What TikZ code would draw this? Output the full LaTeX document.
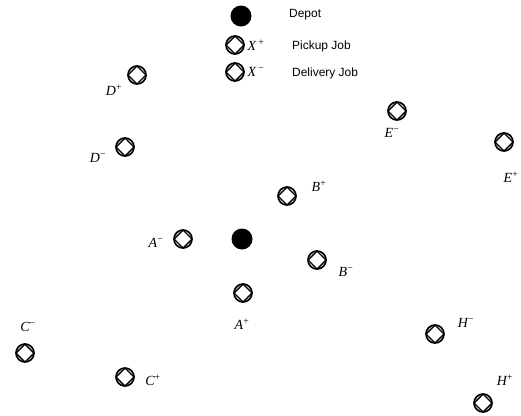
\documentclass[tikz,border=0pt]{standalone}
\usepackage{fontspec}
\setmainfont{Liberation Serif}
\newfontfamily\legendfont{Liberation Sans}
\begin{document}
\begin{tikzpicture}[x=1bp,y=-1bp,
  job/.style={draw,circle,line width=1.7bp,minimum size=18bp,inner sep=0pt,
    path picture={\draw[line width=1.4bp] (path picture bounding box.north)
      -- (path picture bounding box.east) -- (path picture bounding box.south)
      -- (path picture bounding box.west) -- cycle;}},
  depot/.style={circle,fill=black,minimum size=21bp,inner sep=0pt},
  tag/.style={font=\fontsize{14}{16}\selectfont\itshape,inner sep=0pt},
  legend/.style={font=\legendfont\fontsize{12}{14}\selectfont,anchor=west,inner sep=0pt}]

\useasboundingbox (0,0) rectangle (521,415);

%legend
  \node[depot] (key-depot) at (241,16) {};
  \node[legend] (key-depot-text) at (289,15) {Depot};
  \node[job] (key-pick) at (235,45) {};
  \node[tag] (key-pick-tag) at (256,45) {X\,\textsuperscript{\upshape +}};
  \node[legend] (key-pick-text) at (292,46) {Pickup Job};
  \node[job] (key-del) at (235,72) {};
  \node[tag] (key-del-tag) at (256,72) {X\,\textsuperscript{\upshape −}};
  \node[legend] (key-del-text) at (292,73) {Delivery Job};

%depot
  \node[depot] (depot) at (242,239) {};

%pickup and delivery jobs
  \foreach \nm/\mx/\my/\lx/\ly/\ltr/\sgn in {
      Dp/137/75/114/90/D/+, Dm/125/147/98/158/D/−,
      Em/397/111/392/133/E/−, Ep/504/142/511/177/E/+,
      Bp/287/196/319/186/B/+, Bm/317/260/346/272/B/−,
      Ap/243/293/242/324/A/+, Am/183/239/156/243/A/−,
      Cp/125/377/153/380/C/+, Cm/25/353/28/327/C/−,
      Hp/483/403/505/380/H/+, Hm/435/334/466/323/H/−} {
    \node[job] (job-\nm) at (\mx,\my) {};
    \node[tag] (tag-\nm) at (\lx,\ly) {\ltr\textsuperscript{\upshape\sgn}};
  }

\end{tikzpicture}
\end{document}
